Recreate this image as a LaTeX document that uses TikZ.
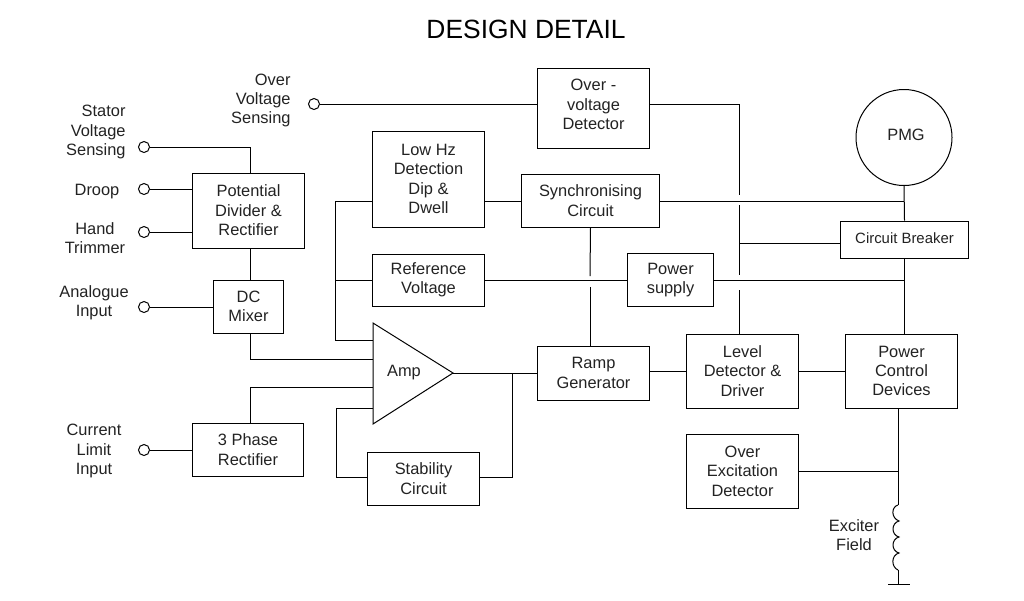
\documentclass[tikz,border=0pt]{standalone}
\usepackage{fontspec}
\setmainfont{Liberation Sans}
\definecolor{inkgrey}{HTML}{222222}
\tikzset{
  label text/.style={text=inkgrey,align=center,inner sep=0pt,font=\fontsize{16.4}{19.4}\selectfont},
  blockbox/.style={draw=black,label text},
  terminal/.style={draw=black,circle,inner sep=0pt,minimum size=11pt},
  nudge down/.style={execute at begin node={\rule{0pt}{#1}}},
  nudge up/.style={execute at end node={\rule[-#1]{0pt}{0pt}}},
}
\begin{document}
\begin{tikzpicture}[x=1pt,y=-1pt,line width=1pt]
  \useasboundingbox (0,0) rectangle (1024,600);
  \node[text=black,inner sep=0pt,font=\fontsize{26.4}{30}\selectfont] (title) at (526,29) {DESIGN DETAIL};

  % input terminals and their labels
  \node[terminal] (stator) at (144,147) {};
  \node[terminal] (droop) at (144,189) {};
  \node[terminal] (hand) at (144,232) {};
  \node[terminal] (analogue) at (144,307) {};
  \node[terminal] (limit) at (144,450) {};
  \node[terminal] (sensing) at (314,104) {};
  \node[label text,align=right,anchor=east] (statorlabel) at (126,132) {Stator\\Voltage\\Sensing};
  \node[label text] (drooplabel) at (97,192) {Droop};
  \node[label text] (handlabel) at (95,238) {Hand\\Trimmer};
  \node[label text] (analoguelabel) at (94,303) {Analogue\\Input};
  \node[label text] (limitlabel) at (94,451) {Current\\Limit\\Input};
  \node[label text,align=right,anchor=east] (sensinglabel) at (291,100.5) {Over\\Voltage\\Sensing};

  % blocks
  \node[blockbox,minimum width=112pt,minimum height=75pt] (divider) at (248.5,210.5) {Potential\\Divider \&\\Rectifier};
  \node[blockbox,minimum width=70pt,minimum height=53pt,nudge down=15pt] (mixer) at (248.5,306.5) {DC\\Mixer};
  \node[blockbox,minimum width=111pt,minimum height=53pt,nudge down=15pt] (threephase) at (248,449.5) {3 Phase\\Rectifier};
  \node[blockbox,minimum width=112pt,minimum height=96pt] (lowhz) at (428.5,179) {Low Hz\\Detection\\Dip \&\\Dwell};
  \node[blockbox,minimum width=112pt,minimum height=52pt,nudge down=18pt] (reference) at (428.5,280) {Reference\\Voltage};
  \node[blockbox,minimum width=112pt,minimum height=53pt,nudge down=14pt] (stability) at (423.5,478.5) {Stability\\Circuit};
  \node[blockbox,minimum width=112pt,minimum height=80pt,nudge up=7pt] (overvolt) at (593.5,108) {Over -\\voltage\\Detector};
  \node[blockbox,minimum width=138pt,minimum height=53pt,nudge down=15pt] (sync) at (590.5,200.5) {Synchronising\\Circuit};
  \node[blockbox,minimum width=86pt,minimum height=53pt,nudge down=18pt] (supply) at (670.5,280) {Power\\supply};
  \node[blockbox,minimum width=112pt,minimum height=54pt] (ramp) at (593.5,373) {Ramp\\Generator};
  \node[blockbox,minimum width=112pt,minimum height=74pt] (level) at (742.5,371) {Level\\Detector \&\\Driver};
  \node[blockbox,minimum width=112pt,minimum height=74pt] (overexc) at (742.5,471) {Over\\Excitation\\Detector};
  \node[blockbox,minimum width=112pt,minimum height=74pt] (control) at (901.5,371) {Power\\Control\\Devices};
  \node[blockbox,minimum width=128pt,minimum height=37pt,nudge up=2pt,font=\fontsize{14.9}{17}\selectfont] (breaker) at (904.5,239.5) {Circuit Breaker};
  \node[draw=black,circle,minimum size=96pt,label text,nudge up=6pt] (pmg) at (904,137.5) {\hspace*{4pt}PMG};

  % amplifier
  \coordinate (amptop) at (373,323);
  \coordinate (ampbottom) at (373,424);
  \coordinate (amptip) at (453,373);
  \draw (amptop) -- (amptip) -- (ampbottom) -- cycle;
  \node[label text] (amp) at (404,373) {Amp};

  % left side connectors
  \coordinate (dividerbus) at (250,147);
  \draw (stator) -- (dividerbus) -- (dividerbus |- divider.north);
  \draw (droop) -- (droop -| divider.west);
  \draw (hand) -- (hand -| divider.west);
  \draw (dividerbus |- divider.south) -- (dividerbus |- mixer.north);
  \draw (analogue) -- (analogue -| mixer.west);
  \coordinate (mixerin) at (373,359);
  \draw (dividerbus |- mixer.south) |- (mixerin);
  \coordinate (rectin) at (373,387);
  \draw (dividerbus |- threephase.north) |- (rectin);
  \draw (limit) -- (limit -| threephase.west);
  \draw (sensing) -- (sensing -| overvolt.west);

  % feedback round the amplifier
  \coordinate (hzbus) at (335,201);
  \coordinate (ampin) at (373,340);
  \draw (hzbus -| lowhz.west) -- (hzbus) |- (ampin);
  \draw (hzbus |- reference.west) -- (reference.west);
  \coordinate (stabin) at (373,408);
  \coordinate (stabbus) at (336,477);
  \draw (stabin) -- (stabbus |- stabin) -- (stabbus) -- (stabbus -| stability.west);
  \coordinate (stabout) at (512,373);
  \draw (amptip) -- (amptip -| ramp.west);
  \draw (stabout) |- (stabbus -| stability.east);

  % middle connectors, the verticals break where they cross
  \draw (hzbus -| lowhz.east) -- (hzbus -| sync.west);
  \draw (reference.east) -- (supply.west);
  \draw (sync.south) -- (590,276);
  \draw (590,287) -- (590 ,346);
  \coordinate (overbus) at (739,104);
  \draw (overbus -| overvolt.east) -- (overbus) -- (739,195);
  \draw (739,205) -- (739,275);
  \draw (739,290) -- (739,334);
  \draw (739,243) -- (739,243 -| breaker.west);
  \coordinate (mainbus) at (904,201);
  \draw (mainbus -| sync.east) -- (mainbus);
  \draw (pmg.south) -- (breaker.north);
  \draw (breaker.south) -- (breaker.south |- control.north);
  \draw (supply.east) -- (supply.east -| breaker.south);

  % right side connectors
  \draw (ramp.east |- level.west) -- (level.west);
  \draw (level.east) -- (control.west);
  \coordinate (fieldbus) at (898,471);
  \draw (overexc.east) -- (fieldbus);
  \coordinate (coiltop) at (898,505);
  \coordinate (coilend) at (898,570);
  \coordinate (earth) at (898,584);
  \draw (fieldbus |- control.south) -- (coiltop);
  \draw (coiltop) .. controls (891,507) and (891,518) .. (899,521)
    .. controls (891,523) and (891,535) .. (899,537)
    .. controls (891,539) and (891,551) .. (899,553)
    .. controls (891,555) and (891,567) .. (898,570);
  \draw (coilend) -- (earth);
  \draw (888,584) -- (earth) -- (910,584);
  \node[label text] (fieldlabel) at (854,535) {Exciter\\Field};
\end{tikzpicture}
\end{document}
